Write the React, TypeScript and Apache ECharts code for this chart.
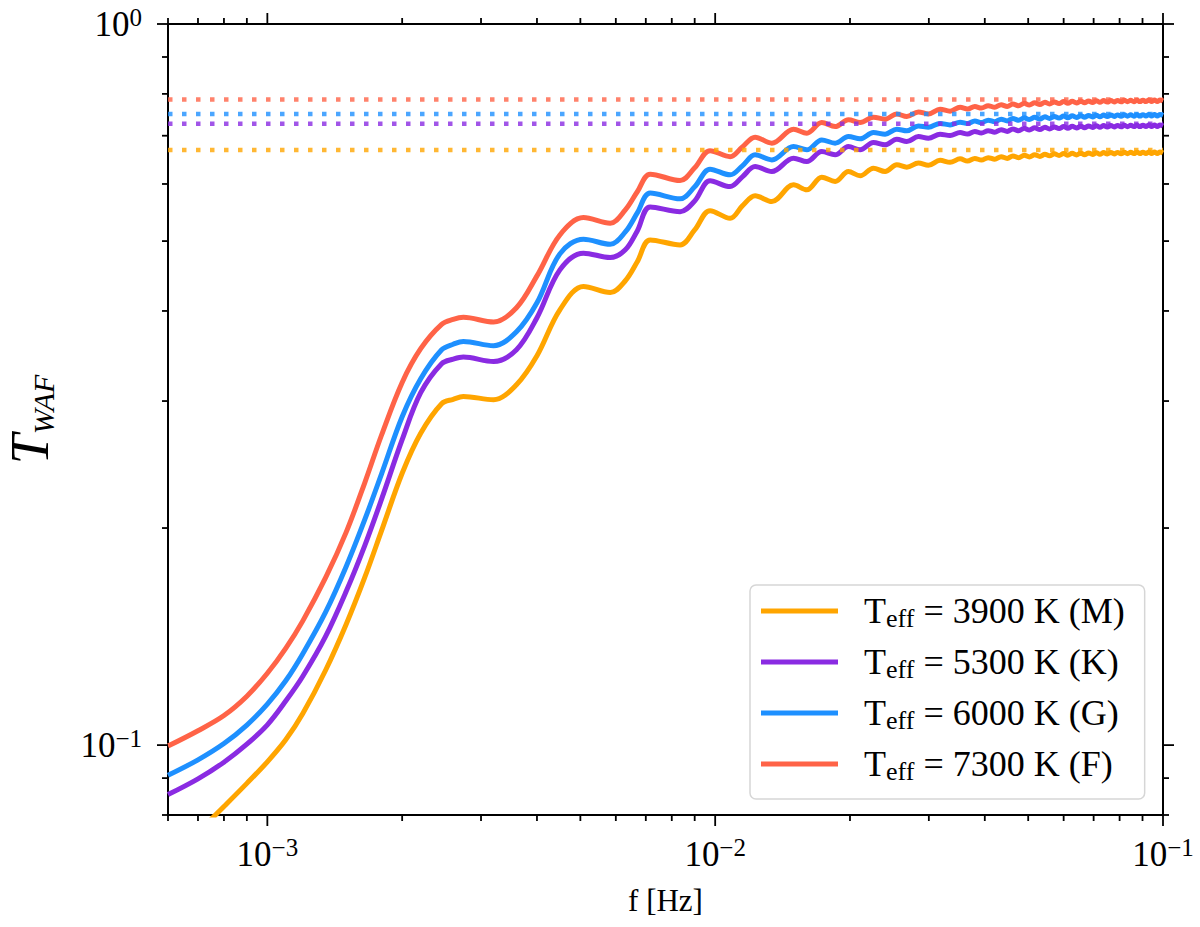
import { useEffect, useRef } from "react";
import * as echarts from "echarts";

// frequency grid [Hz], shared by the four curves
const freq = [
  0.0006, 0.0007, 0.0008, 0.0009, 0.001, 0.0011, 0.0012, 0.00135, 0.0015, 0.00165, 0.0018, 0.002, 0.0022, 0.00245,
  0.0026,
  0.00274, 0.0032, 0.0036, 0.004, 0.0045, 0.00508, 0.00583, 0.0063, 0.0067, 0.00716, 0.00835, 0.009, 0.00974, 0.0108,
  0.0115, 0.01228, 0.01338,
  0.01496, 0.01602, 0.0173, 0.01853, 0.01984, 0.02107, 0.02256, 0.02396, 0.02544, 0.02679, 0.02843, 0.02993, 0.03178,
  0.03346, 0.03523,
  0.0366, 0.038, 0.0393, 0.0407, 0.0421, 0.0435, 0.0449, 0.0462, 0.0476, 0.049, 0.0503, 0.0517, 0.0531, 0.0545, 0.0558,
  0.0572, 0.0586, 0.06, 0.0613, 0.0627, 0.0641, 0.0655, 0.0668, 0.0682, 0.0696, 0.071, 0.0723, 0.0737, 0.0751, 0.0765,
  0.0778, 0.0792, 0.0806, 0.082, 0.0833, 0.0847, 0.0861, 0.0875, 0.0888, 0.0902, 0.0916, 0.093, 0.0943, 0.0957, 0.0971,
  0.0985, 0.1,
];

// Teff = 3900 K (M)
const tauM = [
  0.0694, 0.0757, 0.0822, 0.0885, 0.0948, 0.1018, 0.1106, 0.1271, 0.1471, 0.1708, 0.1985, 0.2382, 0.2707, 0.2975,
  0.3017,
  0.3044, 0.3013, 0.3161, 0.3467, 0.4015, 0.4325, 0.4242, 0.4405, 0.468, 0.5019, 0.4939, 0.5181, 0.551, 0.5378,
  0.5594, 0.5777, 0.5673,
  0.5984, 0.5889, 0.6132, 0.6047, 0.6243, 0.6158, 0.6311, 0.6243, 0.6378, 0.6331, 0.6415, 0.6368, 0.647, 0.6429, 0.6501,
  0.6457, 0.6509, 0.6476, 0.6526, 0.6494, 0.6547, 0.6511, 0.6561, 0.6526, 0.6576, 0.6542, 0.6586, 0.6552, 0.6597, 0.6564,
  0.6606, 0.6572, 0.6612, 0.6576, 0.6617, 0.6583, 0.6621, 0.6587, 0.6625, 0.6594, 0.663, 0.6597, 0.6633, 0.6602, 0.6634,
  0.6605, 0.6637, 0.6607, 0.6638, 0.661, 0.6639, 0.6611, 0.6642, 0.6612, 0.6642, 0.6613, 0.6644, 0.6614, 0.6645, 0.6615,
  0.6646, 0.6625,
];

// Teff = 5300 K (K)
const tauK = [
  0.0854, 0.0898, 0.0947, 0.1003, 0.1067, 0.1152, 0.1246, 0.1416, 0.1634, 0.1891, 0.2195, 0.2652, 0.3081, 0.338,
  0.3429,
  0.3452, 0.3404, 0.3534, 0.3914, 0.4561, 0.4811, 0.4744, 0.4862, 0.5165, 0.5576, 0.5493, 0.5683, 0.606, 0.595,
  0.6138, 0.6343, 0.6243,
  0.6516, 0.6445, 0.6654, 0.6585, 0.6761, 0.6691, 0.6848, 0.6798, 0.6923, 0.687, 0.6981, 0.6945, 0.7034, 0.7003, 0.707,
  0.7038, 0.7095, 0.7059, 0.7112, 0.7078, 0.7136, 0.7097, 0.7151, 0.7112, 0.7167, 0.713, 0.7178, 0.7141, 0.7191, 0.7154,
  0.72, 0.7163, 0.7207, 0.7168, 0.7212, 0.7175, 0.7217, 0.718, 0.7222, 0.7187, 0.7226, 0.7191, 0.723, 0.7196, 0.7231,
  0.7199, 0.7234, 0.7201, 0.7235, 0.7205, 0.7236, 0.7206, 0.7239, 0.7207, 0.724, 0.7208, 0.7242, 0.7209, 0.7243, 0.721,
  0.7244, 0.7221,
];

// Teff = 6000 K (G)
const tauG = [
  0.0908, 0.0954, 0.1005, 0.1066, 0.114, 0.1229, 0.1339, 0.153, 0.1769, 0.2054, 0.238, 0.2854, 0.3222, 0.3534,
  0.3597,
  0.3629, 0.358, 0.3743, 0.4106, 0.48, 0.503, 0.495, 0.5148, 0.547, 0.5828, 0.5722, 0.5946, 0.6291, 0.6177,
  0.6358, 0.6585, 0.648,
  0.6761, 0.6691, 0.6907, 0.6835, 0.6981, 0.693, 0.707, 0.7034, 0.7147, 0.7109, 0.7223, 0.7193, 0.7281, 0.7246, 0.7309,
  0.7277, 0.7337, 0.7299, 0.7355, 0.732, 0.7379, 0.7339, 0.7395, 0.7355, 0.7411, 0.7373, 0.7423, 0.7384, 0.7436, 0.7398,
  0.7445, 0.7407, 0.7452, 0.7412, 0.7458, 0.742, 0.7463, 0.7425, 0.7468, 0.7432, 0.7472, 0.7436, 0.7476, 0.7441, 0.7477,
  0.7445, 0.7481, 0.7447, 0.7482, 0.745, 0.7483, 0.7451, 0.7486, 0.7452, 0.7487, 0.7453, 0.7488, 0.7455, 0.749, 0.7456,
  0.749, 0.7467,
];

// Teff = 7300 K (F)
const tauF = [
  0.0997, 0.1047, 0.1099, 0.1169, 0.1258, 0.1363, 0.1487, 0.1708, 0.1974, 0.2311, 0.2694, 0.3184, 0.3546, 0.3832,
  0.3894,
  0.392, 0.3861, 0.4041, 0.4474, 0.5099, 0.5389, 0.5293, 0.5523, 0.5852, 0.6191, 0.6066, 0.6317, 0.6674, 0.6547,
  0.6754, 0.6967, 0.6835,
  0.7147, 0.7057, 0.7299, 0.7207, 0.7363, 0.73, 0.7426, 0.7379, 0.7505, 0.7441, 0.7553, 0.7505, 0.7618, 0.757, 0.7666,
  0.7622, 0.7684, 0.7645, 0.7703, 0.7666, 0.7728, 0.7686, 0.7745, 0.7703, 0.7762, 0.7722, 0.7774, 0.7734, 0.7788, 0.7748,
  0.7798, 0.7758, 0.7805, 0.7763, 0.7811, 0.7771, 0.7816, 0.7776, 0.7821, 0.7784, 0.7826, 0.7788, 0.783, 0.7793, 0.7831,
  0.7797, 0.7835, 0.7799, 0.7836, 0.7803, 0.7837, 0.7804, 0.784, 0.7805, 0.7841, 0.7806, 0.7843, 0.7808, 0.7844, 0.7809,
  0.7845, 0.782,
];

// high-frequency limits (dotted lines), same order as the curves
const asymptotes = [0.669, 0.727, 0.75, 0.786];
const legendLabels = ["3900 K (M)", "5300 K (K)", "6000 K (G)", "7300 K (F)"];
const colors = ["#FFA500", "#8A2BE2", "#1E90FF", "#FF6347"];
const curves = [tauM, tauK, tauG, tauF];

const xRange = [0.0006, 0.1];
const yRange = [0.08, 1];
const xMajorTicks = [0.001, 0.01, 0.1];
const xMinorTicks = [
  0.0006, 0.0007, 0.0008, 0.0009, 0.002, 0.003, 0.004, 0.005, 0.006, 0.007, 0.008, 0.009, 0.02, 0.03, 0.04, 0.05, 0.06,
  0.07, 0.08, 0.09,
];
const yMajorTicks = [0.1, 1];
const yMinorTicks = [0.08, 0.09, 0.2, 0.3, 0.4, 0.5, 0.6, 0.7, 0.8, 0.9];

const FONT = "Liberation Serif";

const powerLabel = (v: number) => {
  const l = Math.log10(v);
  const e = Math.round(l);
  if (Math.abs(l - e) > 1e-6) return "";
  return `{b|10}{s|${e < 0 ? "\u2212" : ""}${Math.abs(e)}}`;
};

const labelRich = {
  b: { fontSize: 35, fontFamily: FONT, color: "#000", lineHeight: 38 },
  s: { fontSize: 25, fontFamily: FONT, color: "#000", lineHeight: 24, verticalAlign: "top" },
};

const tickStyle = { stroke: "#000", lineWidth: 1.8 };

const tickSeries = (axis: "x" | "y") => ({
  type: "custom",
  silent: true,
  clip: false,
  z: 5,
  encode: { x: 0, y: 1 },
  data:
    axis === "x"
      ? [...xMajorTicks.map((v) => [v, 0.1, 1]), ...xMinorTicks.map((v) => [v, 0.1, 0])]
      : [...yMajorTicks.map((v) => [0.001, v, 1]), ...yMinorTicks.map((v) => [0.001, v, 0])],
  renderItem: (params: any, api: any) => {
    const cs = params.coordSys;
    const len = api.value(2) ? 11 : 6;
    const p = api.coord([api.value(0), api.value(1)]);
    if (axis === "x") {
      const b = cs.y + cs.height;
      const t = cs.y;
      return {
        type: "group",
        children: [
          { type: "line", shape: { x1: p[0], y1: b, x2: p[0], y2: b + len }, style: tickStyle },
          { type: "line", shape: { x1: p[0], y1: t, x2: p[0], y2: t - len }, style: tickStyle },
        ],
      };
    }
    const l = cs.x;
    const r = cs.x + cs.width;
    return {
      type: "group",
      children: [
        { type: "line", shape: { x1: l, y1: p[1], x2: l - len, y2: p[1] }, style: tickStyle },
        { type: "line", shape: { x1: r, y1: p[1], x2: r + len, y2: p[1] }, style: tickStyle },
      ],
    };
  },
});

const App = () => {
  const chartRef = useRef<HTMLDivElement>(null);

  useEffect(() => {
    if (!chartRef.current) return;
    const chart = echarts.init(chartRef.current, null, { renderer: "svg" });

    const lineSeries = curves.map((tau, i) => ({
      name: legendLabels[i],
      type: "line",
      data: freq.map((f, j) => [f, tau[j]]),
      showSymbol: false,
      symbol: "none",
      smooth: 0.35,
      z: 2,
      lineStyle: { color: colors[i], width: 5 },
      itemStyle: { color: colors[i] },
      emphasis: { disabled: true },
    }));

    const limitSeries = asymptotes.map((v, i) => ({
      name: "limit " + legendLabels[i],
      type: "line",
      data: [
        [xRange[0], v],
        [xRange[1], v],
      ],
      showSymbol: false,
      symbol: "none",
      silent: true,
      z: 3,
      lineStyle: { color: colors[i], width: 4.5, type: [4.5, 9.5], cap: "butt", opacity: 0.8 },
      emphasis: { disabled: true },
    }));

    chart.setOption({
      animation: false,
      backgroundColor: "#fff",
      grid: {
        left: 168,
        right: 37,
        top: 24,
        bottom: 112,
        containLabel: false,
        outerBoundsMode: "none",
        show: true,
        borderColor: "#000",
        borderWidth: 2,
        backgroundColor: "transparent",
      },
      xAxis: {
        type: "log",
        logBase: 10,
        min: xRange[0],
        max: xRange[1],
        name: "f [Hz]",
        nameLocation: "middle",
        nameGap: 70,
        nameTextStyle: { fontSize: 31, fontFamily: FONT, color: "#000" },
        axisLine: { lineStyle: { color: "#000", width: 2 } },
        axisTick: { show: false },
        splitLine: { show: false },
        axisLabel: { margin: 20, formatter: powerLabel, rich: labelRich },
      },
      yAxis: {
        type: "log",
        logBase: 10,
        min: yRange[0],
        max: yRange[1],
        name: "{t|T}{s|WAF}",
        nameLocation: "middle",
        nameGap: 110,
        nameTextStyle: {
          rich: {
            t: { fontSize: 54, fontFamily: FONT, fontStyle: "italic", color: "#000", lineHeight: 56 },
            s: {
              fontSize: 30,
              fontFamily: FONT,
              fontStyle: "italic",
              color: "#000",
              lineHeight: 30,
              verticalAlign: "bottom",
            },
          },
        },
        axisLine: { lineStyle: { color: "#000", width: 2 } },
        axisTick: { show: false },
        splitLine: { show: false },
        axisLabel: { margin: 26, formatter: powerLabel, rich: labelRich },
      },
      legend: {
        data: legendLabels,
        orient: "vertical",
        left: 750,
        top: 585,
        icon: "rect",
        itemWidth: 77,
        itemHeight: 5,
        itemGap: 13,
        padding: [8, 20, 15, 11],
        backgroundColor: "#fff",
        borderColor: "#d6d6d6",
        borderWidth: 1.5,
        borderRadius: 6,
        selectedMode: false,
        formatter: (name: string) => `{t|T}{s|eff}{t| = ${name}}`,
        textStyle: {
          padding: [0, 0, 0, 21],
          rich: {
            t: { fontSize: 36, fontFamily: FONT, color: "#000", lineHeight: 40 },
            s: { fontSize: 26, fontFamily: FONT, color: "#000", lineHeight: 26, verticalAlign: "bottom" },
          },
        },
      },
      series: [...lineSeries, ...limitSeries, tickSeries("x"), tickSeries("y")],
    });

    return () => {
      chart.dispose();
    };
  }, []);

  return (
    <div
      ref={chartRef}
      style={{ position: "absolute", left: 0, top: 0, width: "1200px", height: "927px" }}
    ></div>
  );
};

export default App;
